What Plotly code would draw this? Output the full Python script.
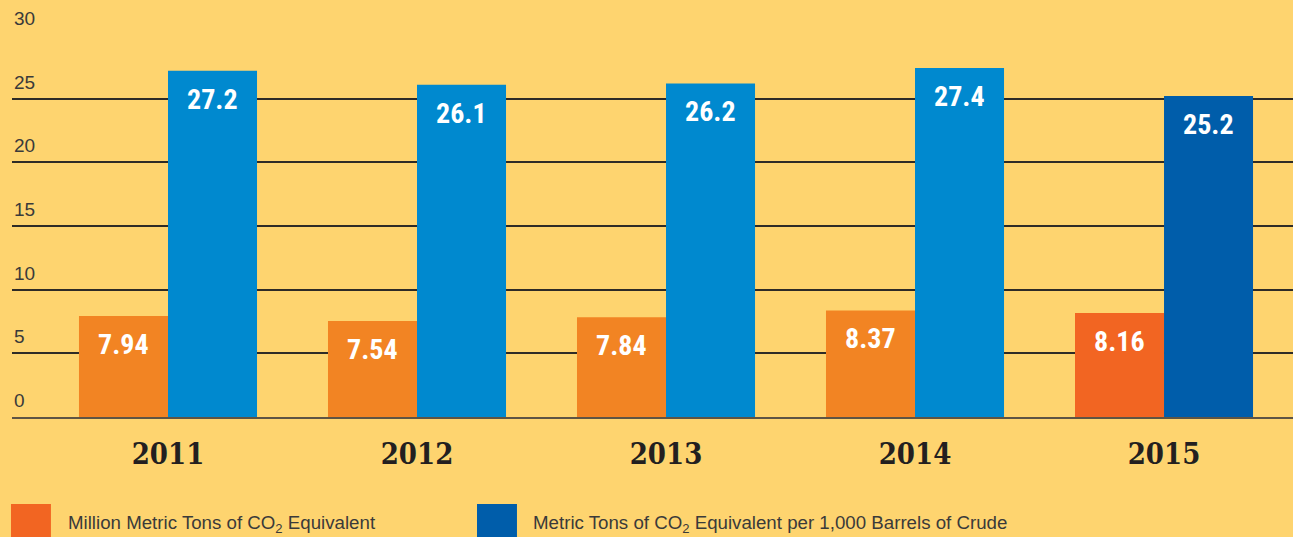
import plotly.graph_objects as go

years = ["2011", "2012", "2013", "2014", "2015"]
million_tons = [7.94, 7.54, 7.84, 8.37, 8.16]
tons_per_kbbl = [27.2, 26.1, 26.2, 27.4, 25.2]
y_ticks = [0, 5, 10, 15, 20, 25, 30]
series_names = ["Million Metric Tons of CO<sub>2</sub> Equivalent",
                "Metric Tons of CO<sub>2</sub> Equivalent per 1,000 Barrels of Crude"]

BG = "#FED46F"
ORANGE_OLD, ORANGE_NEW = "#F28423", "#F26522"
BLUE_OLD, BLUE_NEW = "#0089CF", "#005DAA"
BARGAP = 0.285
VAL_FONT = dict(family="Liberation Sans Narrow, Roboto Condensed, Liberation Sans, sans-serif",
                size=28, color="white")

orange_colors = [ORANGE_OLD] * (len(years) - 1) + [ORANGE_NEW]
blue_colors = [BLUE_OLD] * (len(years) - 1) + [BLUE_NEW]

fig = go.Figure()
fig.add_trace(go.Bar(x=years, y=million_tons, name=series_names[0],
                     marker=dict(color=orange_colors, line=dict(width=0))))
fig.add_trace(go.Bar(x=years, y=tons_per_kbbl, name=series_names[1],
                     marker=dict(color=blue_colors, line=dict(width=0))))

annotations = []
offset = (1 - BARGAP) / 4
for i, (a, b) in enumerate(zip(million_tons, tons_per_kbbl)):
    for xv, v in ((i - offset, a), (i + offset, b)):
        annotations.append(dict(x=xv, y=v, xref="x", yref="y", text=f"<b>{v:g}</b>",
                                showarrow=False, yanchor="top", xanchor="center",
                                yshift=-10, font=VAL_FONT))
for t in y_ticks:
    annotations.append(dict(x=0, y=t, xref="paper", yref="y", text=str(t),
                            showarrow=False, xanchor="left", yanchor="bottom", yshift=4,
                            font=dict(family="Liberation Sans, Arial, sans-serif",
                                      size=19, color="#3a3a3a")))

# custom legend
shapes = []
leg = [(ORANGE_NEW, series_names[0], -0.0008, 0.0420),
       (BLUE_NEW, series_names[1], 0.3630, 0.4050)]
for col, name, x0, xt in leg:
    shapes.append(dict(type="rect", xref="paper", yref="paper", x0=x0, x1=x0 + 0.0312,
                       y0=-0.2277, y1=-0.33, fillcolor=col, line=dict(width=0), layer="above"))
    annotations.append(dict(x=xt, y=-0.2805, xref="paper", yref="paper", text=name,
                            showarrow=False, xanchor="left", yanchor="middle",
                            font=dict(family="Liberation Sans, Arial, sans-serif",
                                      size=18.7, color="#3a3a3a")))

fig.update_layout(
    width=1293, height=537,
    margin=dict(l=12, r=0, t=35, b=120),
    paper_bgcolor=BG, plot_bgcolor=BG,
    barmode="group", bargap=BARGAP, bargroupgap=0,
    showlegend=False,
    annotations=annotations, shapes=shapes,
    xaxis=dict(range=[-0.6265, 4.518], showgrid=False, showline=True,
               linecolor="#5e5444", linewidth=2, layer="above traces",
               ticks="outside", ticklen=10, tickcolor="rgba(0,0,0,0)",
               tickfont=dict(family="DejaVu Serif Condensed, DejaVu Serif, serif",
                             size=29, color="#231F20"),
               tickprefix="<b>", ticksuffix="</b>"),
    yaxis=dict(range=[0, 30], tickvals=y_ticks, showticklabels=False,
               showgrid=True, gridcolor="#2e2b26", gridwidth=2, zeroline=False),
)

fig.write_html("out.html")
